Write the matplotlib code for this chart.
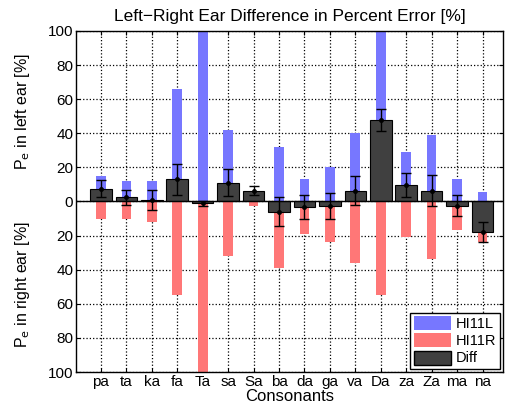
import numpy as np
import matplotlib
matplotlib.use("Agg")
import matplotlib.pyplot as plt
from matplotlib.patches import Patch

plt.rcParams["font.family"] = ["Liberation Sans", "DejaVu Sans"]

consonants = ["pa", "ta", "ka", "fa", "Ta", "sa", "Sa", "ba",
              "da", "ga", "va", "Da", "za", "Za", "ma", "na"]
left_err = [15, 12, 12, 66, 100, 42, 5, 32, 13, 20, 40, 100, 29, 39, 13, 5.5]
right_err = [10, 10.5, 12, 55, 100, 32, 2.5, 39, 19, 24, 36, 55, 21, 34, 17, 24]
diff = [7.5, 2.4, 1, 13, -1, 11, 6.3, -6, -3.5, -2.5, 6.3, 48, 9.4, 6.3, -2.5, -18]
diff_sd = [5, 4.5, 6, 9, 1.5, 8, 2.5, 8.5, 7, 7.5, 8.5, 6.5, 7, 9, 6, 6]

x = np.arange(1, len(consonants) + 1)

fig, ax = plt.subplots(figsize=(5.1, 4.12), dpi=100)
fig.subplots_adjust(left=0.149, right=0.986, bottom=0.097, top=0.925)

blue = "#7777ff"
red = "#ff7777"
dark = "#404040"

ax.bar(x, left_err, width=0.38, color=blue, zorder=2)
ax.bar(x, [-v for v in right_err], width=0.38, color=red, zorder=2)
ax.bar(x, diff, width=0.85, color=dark, edgecolor="black", linewidth=0.8, zorder=3)
ax.errorbar(x, diff, yerr=diff_sd, fmt="k.", markersize=5, ecolor="black",
            elinewidth=1.0, capsize=3.5, capthick=1.0, zorder=4)
ax.axhline(0, color="black", linewidth=1.0, zorder=5)

ax.set_xlim(0.02, 16.8)
ax.set_ylim(-100, 100)
ax.set_xticks(x)
ax.set_xticklabels(consonants)
yt = np.arange(-100, 101, 20)
ax.set_yticks(yt)
ax.set_yticklabels([str(abs(v)) for v in yt])
ax.tick_params(direction="in", labelsize=11, length=3, top=True, right=True, pad=2)
ax.grid(True, linestyle=":", color="black", linewidth=0.9, zorder=1)
ax.set_axisbelow(True)
for s in ax.spines.values():
    s.set_linewidth(1.0)

ax.set_title("Left\u2212Right Ear Difference in Percent Error [%]", fontsize=12.5, pad=7)
ax.set_xlabel("Consonants", fontsize=12, labelpad=0)
fig.text(0.045, 0.73, r"P$_{\rm e}$ in left ear [%]", rotation=90,
         ha="center", va="center", fontsize=11.5)
fig.text(0.045, 0.31, r"P$_{\rm e}$ in right ear [%]", rotation=90,
         ha="center", va="center", fontsize=11.5)

handles = [Patch(facecolor=blue, label="HI11L"),
           Patch(facecolor=red, label="HI11R"),
           Patch(facecolor=dark, edgecolor="black", label="Diff")]
leg = ax.legend(handles=handles, loc="lower right", fontsize=10.5, fancybox=False,
                framealpha=1, edgecolor="black", borderpad=0.25, labelspacing=0.15,
                handlelength=2.6, handleheight=1.1, handletextpad=0.3,
                borderaxespad=0.2)
leg.get_frame().set_linewidth(1.0)

fig.savefig("out.png", dpi=100)
